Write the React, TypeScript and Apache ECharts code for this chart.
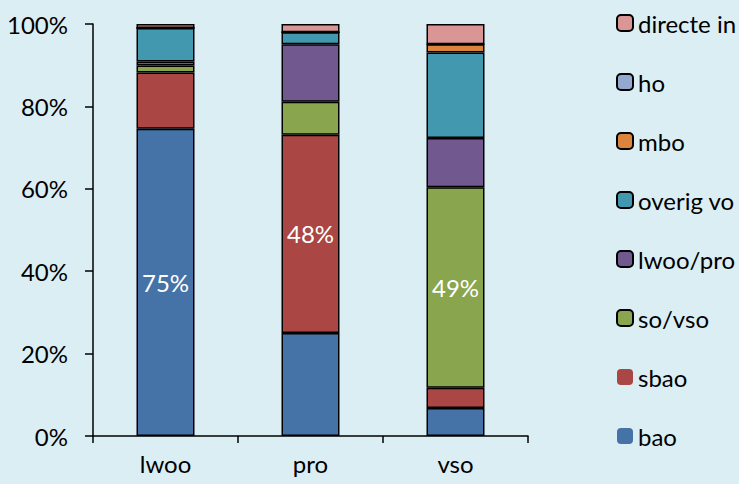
import React, { useEffect, useRef } from "react";
import * as echarts from "echarts";

const categories = ["lwoo", "pro", "vso"];
const seriesNames = ["bao", "sbao", "so/vso", "lwoo/pro", "overig vo", "mbo", "ho", "directe in"];
const colors = ["#4572A7", "#AA4643", "#89A54E", "#71588F", "#4198AF", "#DB843D", "#93A9CF", "#D99694"];

const baoValues = [74.6, 25.0, 6.8];
const sbaoValues = [13.6, 48.1, 4.9];
const soVsoValues = [1.7, 8.0, 48.7];
const lwooProValues = [1.0, 14.0, 11.9];
const overigVoValues = [8.1, 2.9, 20.8];
const mboValues = [0, 0, 2.0];
const hoValues = [0, 0, 0];
const directeValues = [1.0, 2.0, 4.9];

const allValues = [baoValues, sbaoValues, soVsoValues, lwooProValues, overigVoValues, mboValues, hoValues, directeValues];
// which category index shows a value label, per series
const labelledPoints: number[][] = [[0], [1], [2], [], [], [], [], []];
const yTicks = [0, 20, 40, 60, 80, 100];

const FONT = "Lato, 'Open Sans', sans-serif";
const FS = 24;

export default function App() {
  const ref = useRef<HTMLDivElement>(null);
  useEffect(() => {
    if (!ref.current) return;
    const chart = echarts.init(ref.current, null, { renderer: "svg" });
    const series = seriesNames.map((name, si) => ({
      name,
      type: "bar",
      stack: "total",
      barWidth: 58,
      itemStyle: { color: colors[si], borderColor: "#000", borderWidth: 1.5 },
      label: {
        show: false,
        position: "inside",
        color: "#fff",
        fontSize: FS,
        fontFamily: FONT,
        formatter: (p: any) => `${Math.round(p.value)}%`,
      },
      data: allValues[si].map((v, ci) =>
        labelledPoints[si].includes(ci) ? { value: v, label: { show: true } } : v
      ),
    }));
    chart.setOption({
      animation: false,
      backgroundColor: "#DBEEF4",
      textStyle: { fontFamily: FONT },
      grid: { left: 93, right: 211, top: 24, bottom: 48, containLabel: false },
      legend: {
        orient: "vertical",
        left: 616,
        top: 11,
        padding: 0,
        itemWidth: 16,
        itemHeight: 16,
        itemGap: 35,
        textStyle: { fontSize: FS, color: "#000", fontFamily: FONT, lineHeight: 24 },
        data: [...seriesNames].reverse().map((n) =>
          n === "bao" || n === "sbao" ? { name: n, itemStyle: { borderWidth: 0 } } : { name: n }
        ),
      },
      xAxis: {
        type: "category",
        data: categories,
        boundaryGap: true,
        axisLine: { lineStyle: { color: "#000", width: 1.5 } },
        axisTick: { show: true, length: 7, lineStyle: { color: "#000", width: 1.5 } },
        axisLabel: { color: "#000", fontSize: FS, fontFamily: FONT, margin: 15 },
      },
      yAxis: {
        type: "value",
        min: yTicks[0],
        max: yTicks[yTicks.length - 1],
        interval: 20,
        splitLine: { show: false },
        axisLine: { show: true, lineStyle: { color: "#000", width: 1.5 } },
        axisTick: { show: true, length: 8, lineStyle: { color: "#000", width: 1.5 } },
        axisLabel: { color: "#000", fontSize: FS, fontFamily: FONT, margin: 25, formatter: "{value}%" },
      },
      series,
    });
    return () => chart.dispose();
  }, []);
  return <div ref={ref} style={{ width: 739, height: 484, position: "fixed", left: 0, top: 0 }} />;
}
